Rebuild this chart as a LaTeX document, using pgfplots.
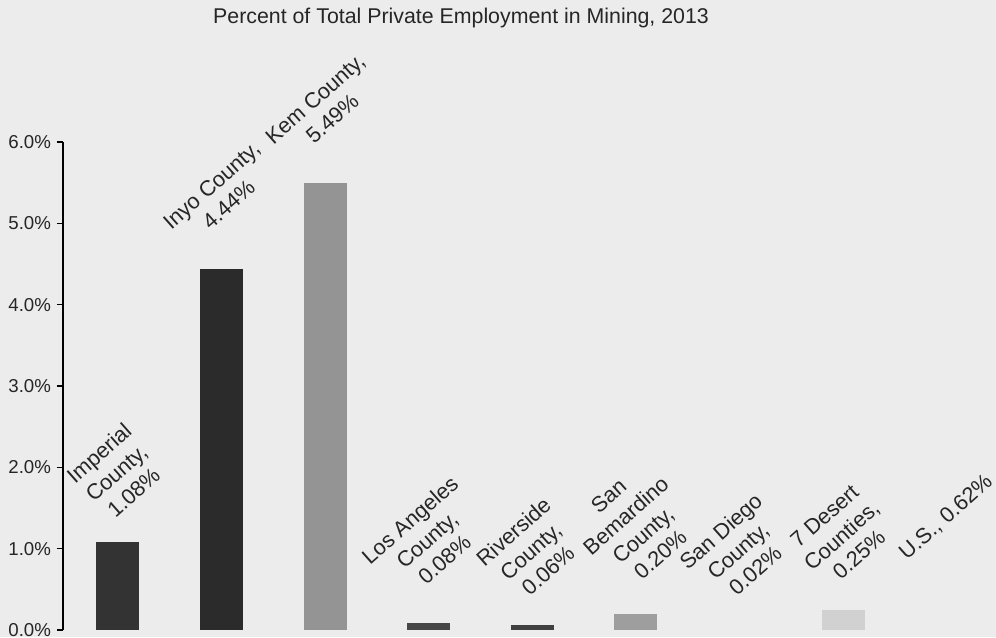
\documentclass[border=0pt]{standalone}
\usepackage{pgfplots}
\pgfplotsset{compat=1.18}
\usepackage{fontspec}
\setmainfont{Liberation Sans}
\usepackage{graphicx}
\definecolor{bg}{gray}{0.925}
\newcommand{\rl}[1]{\rotatebox{41.5}{\fontsize{16.3}{19.5}\selectfont\begin{tabular}{@{}c@{}}#1\end{tabular}}}
\begin{document}
\begin{tikzpicture}
\path[use as bounding box, fill=bg] (-47.25pt,-5.25pt) rectangle (699.75pt,472.5pt);
\begin{axis}[
  at={(0pt,0pt)}, anchor=south west,
  scale only axis, width=699.75pt, height=366pt,
  xmin=-0.53, xmax=8.475, ymin=0, ymax=6,
  axis x line=none, axis y line=left,
  y axis line style={-, line width=0.8pt, black},
  ytick={0,1,2,3,4,5,6},
  tick align=outside, major tick length=4.5pt,
  every tick/.style={black, line width=0.8pt},
  /pgf/number format/assume math mode=true,
  yticklabel={\pgfmathprintnumber[fixed,fixed zerofill,precision=1]{\tick}\%},
  yticklabel style={font=\fontsize{14}{16}\selectfont, text=black!85, xshift=-1pt},
  ybar, bar width=32.25pt,
  nodes near coords style={anchor=south, inner sep=0pt, yshift=9.5pt, text=black!85},
  clip=false,
]
\addplot[fill=black!80, draw=none, bar shift=0pt, nodes near coords={\rl{Imperial\\County,\\1.08\%}}] coordinates {(0,1.08)};
\addplot[fill=black!83, draw=none, bar shift=0pt, nodes near coords={\rl{Inyo County,\\4.44\%}}] coordinates {(1,4.44)};
\addplot[fill=black!42, draw=none, bar shift=0pt, nodes near coords={\rl{Kem County,\\5.49\%}}] coordinates {(2,5.49)};
\addplot[fill=black!72, draw=none, bar shift=0pt, nodes near coords={\rl{Los Angeles\\County,\\0.08\%}}] coordinates {(3,0.08)};
\addplot[fill=black!75, draw=none, bar shift=0pt, nodes near coords={\rl{Riverside\\County,\\0.06\%}}] coordinates {(4,0.06)};
\addplot[fill=black!38, draw=none, bar shift=0pt, nodes near coords={\rl{San\\Bemardino\\County,\\0.20\%}}] coordinates {(5,0.20)};
\addplot[fill=bg, draw=none, bar shift=0pt, nodes near coords={\rl{San Diego\\County,\\0.02\%}}] coordinates {(6,0.02)};
\addplot[fill=black!18, draw=none, bar shift=0pt, nodes near coords={\rl{7 Desert\\Counties,\\0.25\%}}] coordinates {(7,0.25)};
\addplot[fill=bg, draw=none, bar shift=0pt, nodes near coords={\rl{U.S., 0.62\%}}] coordinates {(8,0.62)};
\node[font=\fontsize{16}{19}\selectfont, text=black!85, anchor=center] at (rel axis cs:0.4266,1.254) {Percent of Total Private Employment in Mining, 2013};
\end{axis}
\end{tikzpicture}
\end{document}
